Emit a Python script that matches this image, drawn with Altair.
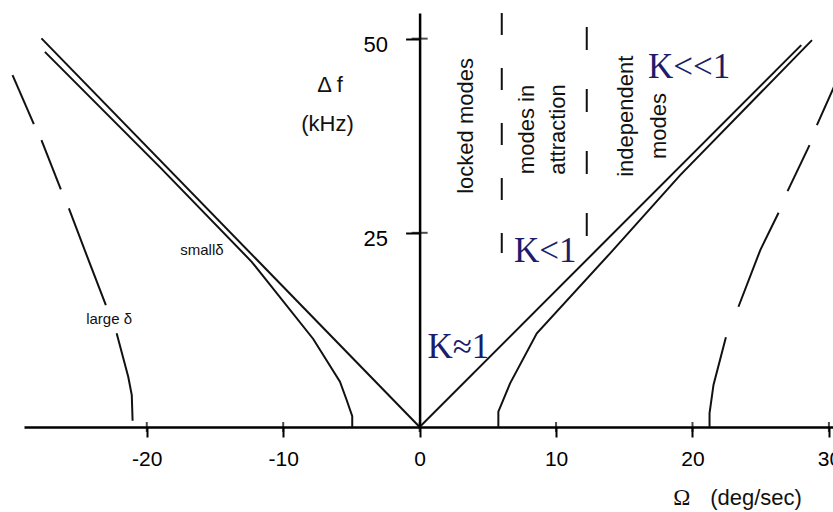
import altair as alt
import pandas as pd

# ---- axis ranges and ticks ----
x_domain = [-29.0, 30.3]
y_domain = [0.0, 53.3]
x_ticks = [-20, -10, 0, 10, 20, 30]
y_ticks = [25, 50]

# ---- K≈1 locking boundary: straight lines through the origin ----
k1_left_x = [0.0, -27.72]
k1_left_y = [0.0, 50.03]
k1_right_x = [0.0, 27.97]
k1_right_y = [0.0, 49.16]

# ---- small detuning (small δ) curves ----
small_left_x = [-4.94, -4.94, -5.35, -5.84, -7.80, -12.31, -19.04, -27.47]
small_left_y = [0.0, 1.39, 3.47, 5.83, 11.33, 21.27, 33.46, 48.30]
small_right_x = [5.77, 5.77, 6.63, 8.59, 13.96, 19.10, 28.76]
small_right_y = [0.0, 1.97, 5.62, 12.06, 22.36, 32.43, 49.81]

# ---- large detuning (large δ) curves, drawn as broken pieces ----
large_left_x = [-29.84, -28.28, -27.72, -26.30, -25.71, -24.36, -23.00, -22.21, -21.36, -21.10, -21.04]
large_left_y = [45.30, 39.00, 36.94, 30.59, 28.15, 21.90, 15.70, 12.06, 6.47, 4.10, 0.81]
large_left_piece = [1, 1, 2, 2, 3, 3, 3, 4, 4, 4, 4]

large_right_x = [21.25, 21.25, 21.54, 22.45, 23.37, 24.97, 26.31, 26.97, 28.58, 29.12, 30.32, 30.98]
large_right_y = [0.0, 1.76, 5.41, 11.54, 15.48, 22.78, 27.58, 30.37, 36.29, 38.87, 43.59, 46.20]
large_right_piece = [1, 1, 1, 1, 2, 2, 2, 3, 3, 4, 4, 4]

# ---- regime boundaries (dashed verticals) ----
bound_inner_x = [6.02]
bound_inner_top = [53.3]
bound_inner_bottom = [22.4]
bound_outer_x = [12.25]
bound_outer_top = [51.5]
bound_outer_bottom = [24.5]

# ---- annotations ----
k_text = ["K≈1", "K<1", "K<<1"]
k_x = [2.84, 9.20, 19.76]
k_y = [8.85, 21.27, 44.88]

regime_text = ["locked modes", "modes in", "attraction", "independent", "modes"]
regime_x = [3.92, 8.39, 10.66, 15.61, 18.07]
regime_y = [38.76, 38.30, 38.30, 40.00, 38.76]

ylab_text = ["Δ f", "(kHz)"]
ylab_x = [-6.57, -6.75]
ylab_y = [43.15, 38.16]

delta_text = ["smallδ", "large δ"]
delta_x = [-15.96, -22.76]
delta_y = [22.14, 13.26]

omega_text = ["Ω"]
omega_x = [19.22]
omega_y = [-10.10]
unit_text = ["(deg/sec)"]
unit_x = [21.3]
unit_y = [-10.10]


def curve_rows(name, xs, ys, pieces=None):
    if pieces is None:
        pieces = [1] * len(xs)
    return [
        {"curve": name, "piece": f"{name}-{p}", "i": i, "x": x, "y": y}
        for i, (x, y, p) in enumerate(zip(xs, ys, pieces))
    ]


curves = pd.DataFrame(
    curve_rows("k1_left", k1_left_x, k1_left_y)
    + curve_rows("k1_right", k1_right_x, k1_right_y)
    + curve_rows("small_left", small_left_x, small_left_y)
    + curve_rows("small_right", small_right_x, small_right_y)
    + curve_rows("large_left", large_left_x, large_left_y, large_left_piece)
    + curve_rows("large_right", large_right_x, large_right_y, large_right_piece)
)

SANS = "Liberation Sans"
SERIF = "Liberation Serif"
INK = "#111111"
NAVY = "#1c1c6c"

x_enc = alt.X(
    "x:Q",
    scale=alt.Scale(domain=x_domain, nice=False, zero=False),
    axis=alt.Axis(
        values=x_ticks, title=None, grid=False,
        domainColor="black", domainWidth=2.5,
        tickColor="black", tickWidth=2, tickSize=10,
        labelFont=SANS, labelFontSize=21, labelColor="black",
        labelPadding=11, labelFlush=False, labelOverlap=False,
        labelExpr="'' + datum.value",
    ),
)
y_enc = alt.Y(
    "y:Q",
    scale=alt.Scale(domain=y_domain, nice=False, zero=False),
    axis=alt.Axis(
        values=y_ticks, title=None, grid=False,
        offset=-395.6,
        domainColor="black", domainWidth=2.5,
        tickColor="black", tickWidth=2, tickSize=14,
        labelFont=SANS, labelFontSize=22, labelColor="black",
        labelPadding=18, labelOffset=6, labelOverlap=False,
    ),
)

lines = alt.Chart(curves).mark_line(color=INK, strokeWidth=2).encode(
    x=x_enc, y=y_enc, detail="piece:N", order="i:Q"
)

# tick marks crossing the axes (inner half)
xt = alt.Chart(pd.DataFrame({"x": x_ticks, "y": [0.0] * len(x_ticks)})).mark_tick(
    orient="vertical", size=10, thickness=2, color="black"
).encode(x=x_enc, y=y_enc)
yt = alt.Chart(pd.DataFrame({"x": [0.0] * len(y_ticks), "y": y_ticks})).mark_tick(
    orient="horizontal", size=16, thickness=2, color="black"
).encode(x=x_enc, y=y_enc)

inner_rule = alt.Chart(
    pd.DataFrame({"x": bound_inner_x, "y": bound_inner_top, "y2": bound_inner_bottom})
).mark_rule(color=INK, strokeWidth=2, strokeDash=[22, 33]).encode(
    x=x_enc, y=y_enc, y2="y2:Q"
)
outer_rule = alt.Chart(
    pd.DataFrame({"x": bound_outer_x, "y": bound_outer_top, "y2": bound_outer_bottom})
).mark_rule(color=INK, strokeWidth=2, strokeDash=[23, 39]).encode(
    x=x_enc, y=y_enc, y2="y2:Q"
)


def text_layer(texts, xs, ys, **mark):
    df = pd.DataFrame({"t": texts, "x": xs, "y": ys})
    return alt.Chart(df).mark_text(**mark).encode(x=x_enc, y=y_enc, text="t:N")


k_labels = text_layer(k_text, k_x, k_y, font=SERIF, fontSize=35, color=NAVY,
                      align="center", baseline="alphabetic")
regimes = text_layer(regime_text, regime_x, regime_y, font=SANS, fontSize=22,
                     color=INK, angle=270, align="center", baseline="alphabetic")
ylab = text_layer(ylab_text, ylab_x, ylab_y, font=SANS, fontSize=22, color=INK,
                  align="center", baseline="alphabetic")
deltas = text_layer(delta_text, delta_x, delta_y, font=SANS, fontSize=15, color=INK,
                    align="center", baseline="alphabetic")
omega = text_layer(omega_text, omega_x, omega_y, font=SERIF, fontSize=23, color=INK,
                   align="center", baseline="alphabetic")
unit = text_layer(unit_text, unit_x, unit_y, font=SANS, fontSize=22, color=INK,
                  align="left", baseline="alphabetic")

chart = (
    alt.layer(lines, inner_rule, outer_rule, xt, yt, k_labels, regimes, ylab,
              deltas, omega, unit)
    .properties(
        width=809, height=414,
        autosize=alt.AutoSizeParams(type="none"),
        padding={"left": 24, "top": 13, "right": 0, "bottom": 85},
        background="white",
    )
    .configure_view(stroke=None)
)

chart.save("out.html", embed_options={"renderer": "svg", "actions": False})
